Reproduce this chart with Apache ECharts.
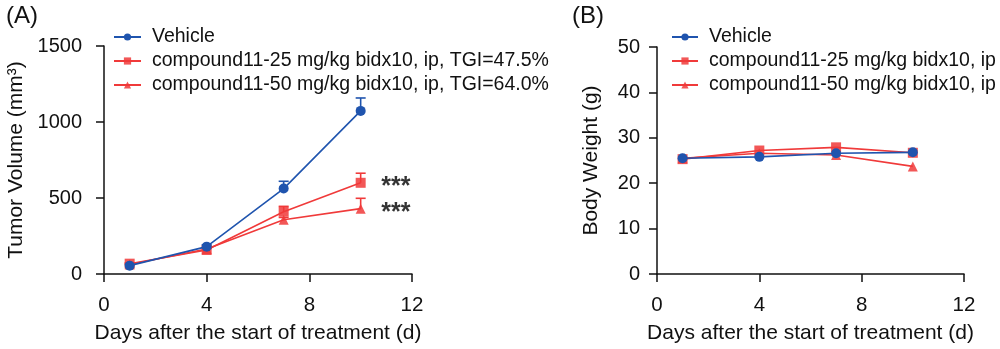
<!DOCTYPE html>
<html><head><meta charset="utf-8">
<script src="https://cdn.jsdelivr.net/npm/echarts@6/dist/echarts.min.js"></script>
<style>html,body{margin:0;padding:0;background:#fff}#c{width:1000px;height:349px}</style>
</head><body><div id="c"></div>
<script>
const days = [1, 4, 7, 10];
const seriesNamesA = ['Vehicle', 'compound11-25 mg/kg bidx10, ip, TGI=47.5%', 'compound11-50 mg/kg bidx10, ip, TGI=64.0%'];
const seriesNamesB = ['Vehicle', 'compound11-25 mg/kg bidx10, ip', 'compound11-50 mg/kg bidx10, ip'];
const volVehicle = [55, 180, 562, 1073];
const volVehicleErr = [8, 12, 48, 85];
const volC25 = [68, 158, 410, 600];
const volC25Err = [6, 10, 35, 63];
const volC50 = [63, 165, 357, 430];
const volC50Err = [5, 8, 15, 68];
const bwVehicle = [25.5, 25.8, 26.6, 26.8];
const bwC25 = [25.3, 27.2, 27.9, 26.7];
const bwC50 = [25.5, 26.6, 26.2, 23.7];
const starAnnot = [[10.8, 600, '***'], [10.8, 430, '***']];

const BLUE = '#1f54ae', RED = '#f03a3a';
const FONT = 'Liberation Sans, Arial, sans-serif';

function lineSeries(name, y, color, symbol, xi, yi, z) {
  return {
    name, type: 'line', xAxisIndex: xi, yAxisIndex: yi,
    data: days.map((d, i) => [d, y[i]]),
    symbol, symbolSize: 10,
    lineStyle: { color, width: 1.6 },
    itemStyle: { color: color, opacity: color === RED ? 0.85 : 1 },
    z: z
  };
}
function errSeries(y, err, color, xi, yi) {
  return {
    type: 'custom', xAxisIndex: xi, yAxisIndex: yi, silent: true, z: 1,
    data: days.map((d, i) => [d, y[i], y[i] + err[i]]),
    renderItem: function (params, api) {
      const p0 = api.coord([api.value(0), api.value(1)]);
      const p1 = api.coord([api.value(0), api.value(2)]);
      const w = 5;
      return { type: 'group', children: [
        { type: 'line', shape: { x1: p0[0], y1: p0[1], x2: p1[0], y2: p1[1] }, style: { stroke: color, lineWidth: 1.6 } },
        { type: 'line', shape: { x1: p1[0] - w, y1: p1[1], x2: p1[0] + w, y2: p1[1] }, style: { stroke: color, lineWidth: 1.6 } }
      ] };
    }
  };
}
function xAxis(gi) {
  return {
    type: 'value', gridIndex: gi, min: 0, max: 12, interval: 4,
    name: 'Days after the start of treatment (d)', nameLocation: 'middle', nameGap: 49,
    nameTextStyle: { fontSize: 21, color: '#111', fontFamily: FONT },
    axisLine: { lineStyle: { color: '#111', width: 1.5 } },
    axisTick: { show: true, length: 8, lineStyle: { color: '#111', width: 1.5 } },
    axisLabel: { fontSize: 20.5, color: '#111', fontFamily: FONT, margin: 21 },
    splitLine: { show: false }
  };
}
function yAxis(gi, max, interval, name, gap, margin) {
  return {
    type: 'value', gridIndex: gi, min: 0, max, interval,
    name, nameLocation: 'middle', nameGap: gap,
    nameTextStyle: { fontSize: 21, color: '#111', fontFamily: FONT },
    axisLine: { show: true, lineStyle: { color: '#111', width: 1.5 } },
    axisTick: { show: true, length: 8, lineStyle: { color: '#111', width: 1.5 } },
    axisLabel: { fontSize: 20, color: '#111', fontFamily: FONT, margin: margin, formatter: v => String(v) },
    splitLine: { show: false }
  };
}
function legend(left, names, w) {
  return {
    orient: 'vertical', left, top: 27, padding: 0, itemWidth: w, itemHeight: 9, itemGap: 4,
    textStyle: { fontSize: 19.5, color: '#111', fontFamily: FONT, padding: [0, 0, 0, 6] },
    data: names, selectedMode: false
  };
}
const chart = echarts.init(document.getElementById('c'), null, { renderer: 'canvas' });
chart.setOption({
  animation: false,
  backgroundColor: '#fff',
  title: [
    { text: '(A)', left: 1, top: -1, textStyle: { fontSize: 24, fontWeight: 'normal', color: '#111', fontFamily: FONT } },
    { text: '(B)', left: 567, top: -1, textStyle: { fontSize: 24, fontWeight: 'normal', color: '#111', fontFamily: FONT } }
  ],
  grid: [
    { left: 104, top: 46, right: 588, bottom: 75 },
    { left: 657, top: 47, right: 36, bottom: 75 }
  ],
  legend: [
    legend(113, seriesNamesA, 27),
    legend(671, seriesNamesB, 26)
  ],
  xAxis: [xAxis(0), xAxis(1)],
  yAxis: [yAxis(0, 1500, 500, 'Tumor Volume (mm³)', 77, 22), yAxis(1, 50, 10, 'Body Weight (g)', 55, 17)],
  series: [
    errSeries(volVehicle, volVehicleErr, BLUE, 0, 0),
    errSeries(volC25, volC25Err, RED, 0, 0),
    errSeries(volC50, volC50Err, RED, 0, 0),
    lineSeries(seriesNamesA[2], volC50, RED, 'triangle', 0, 0, 3),
    lineSeries(seriesNamesA[1], volC25, RED, 'rect', 0, 0, 4),
    lineSeries(seriesNamesA[0], volVehicle, BLUE, 'circle', 0, 0, 5),
    {
      type: 'scatter', xAxisIndex: 0, yAxisIndex: 0, symbolSize: 0, silent: true,
      data: starAnnot.map(s => [s[0], s[1], s[2]]),
      label: { show: true, position: 'right', distance: 0, formatter: p => p.value[2], fontSize: 25, fontWeight: 'bold', color: '#000', fontFamily: FONT, offset: [0, 4] }
    },
    lineSeries(seriesNamesB[2], bwC50, RED, 'triangle', 1, 1, 3),
    lineSeries(seriesNamesB[1], bwC25, RED, 'rect', 1, 1, 4),
    lineSeries(seriesNamesB[0], bwVehicle, BLUE, 'circle', 1, 1, 5)
  ]
});
</script></body></html>
